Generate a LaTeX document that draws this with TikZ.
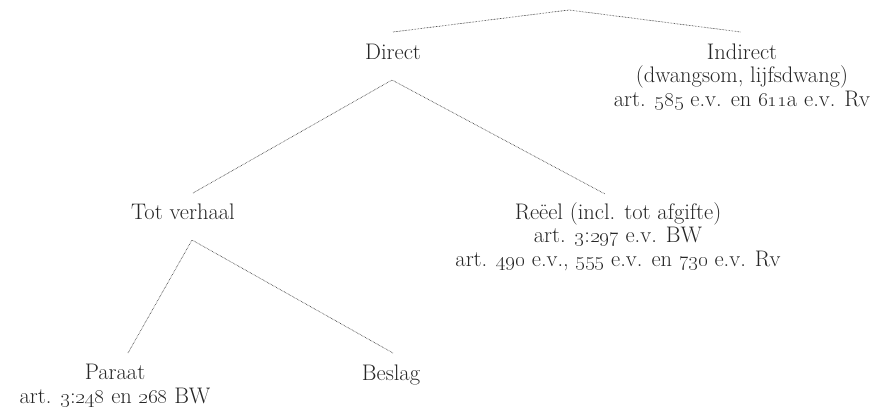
\documentclass[tikz,border=0pt]{standalone}
\newcommand{\os}[1]{\oldstylenums{#1}}
\begin{document}
\begin{tikzpicture}[x=1pt,y=-1pt,
  lbl/.style={anchor=base,align=center,inner sep=0pt,font=\fontsize{22.5}{23.5}\selectfont,text=black!85},
  conn/.style={dash pattern=on 0.6pt off 0.9pt,line width=0.7pt,black!75}]
\useasboundingbox (0,0) rectangle (883,416);
\coordinate (root) at (569,10);
\coordinate (dtop) at (393,32);
\coordinate (itop) at (741,32);
\coordinate (dbot) at (392,80);
\coordinate (ttop) at (193,193);
\coordinate (rtop) at (605,194);
\coordinate (tbot) at (192,240);
\coordinate (ptop) at (128,353);
\coordinate (btop) at (393,353);
\node[lbl] (direct) at (393,59) {Direct};
\node[lbl] (indirect) at (742,106) {Indirect\\(dwangsom, lijfsdwang)\\art. \os{585} e.v. en \os{611}a e.v. Rv};
\node[lbl] (tot) at (183,219) {Tot verhaal};
\node[lbl] (reeel) at (618,266) {Reëel (incl. tot afgifte)\\art. \os{3}:\os{297} e.v. BW\\art. \os{490} e.v., \os{555} e.v. en \os{730} e.v. Rv};
\node[lbl] (paraat) at (115,403) {Paraat\\art. \os{3}:\os{248} en \os{268} BW};
\node[lbl] (beslag) at (391,380) {Beslag};
\draw[conn] (dtop) -- (root) -- (itop);
\draw[conn] (ttop) -- (dbot) -- (rtop);
\draw[conn] (ptop) -- (tbot) -- (btop);
\end{tikzpicture}
\end{document}
